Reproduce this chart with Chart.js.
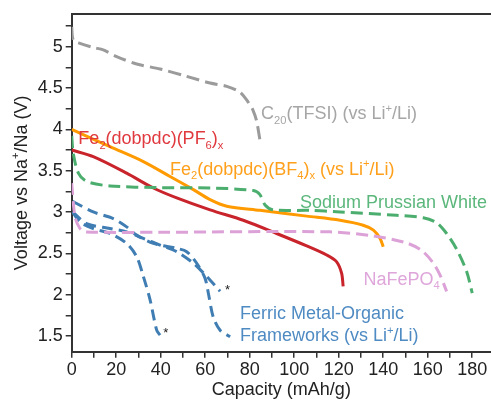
<!DOCTYPE html>
<html lang="en">
<head>
<meta charset="UTF-8">
<title>Voltage vs capacity</title>
<script src="https://cdn.jsdelivr.net/npm/chart.js"></script>
<style>
  html, body { margin: 0; padding: 0; background: #fff; }
</style>
</head>
<body>
<canvas id="voltageChart" width="491" height="403"></canvas>
<script>
// tick labels
const capacityLabels = [0, 20, 40, 60, 80, 100, 120, 140, 160, 180];
const voltageLabels = [1.5, 2, 2.5, 3, 3.5, 4, 4.5, 5];

// C20(TFSI) (vs Li+/Li)
const c20Cap = [0, 0.7, 3.7, 9.7, 14.2, 20.2, 29.2, 39.7, 51.7, 62.2, 69.7, 75.6, 79.3, 81.5, 83.1, 84.6];
const c20Volt = [5.24, 5.08, 5.04, 4.99, 4.96, 4.88, 4.79, 4.73, 4.64, 4.56, 4.52, 4.45, 4.33, 4.23, 4.10, 3.87];

// Fe2(dobpdc)(BF4)x (vs Li+/Li)
const bf4Cap = [0, 17.2, 32.2, 44.2, 54.7, 62.2, 69.7, 84.6, 105.6, 120.6, 131, 135.6, 138.6, 140];
const bf4Volt = [4.0, 3.79, 3.61, 3.43, 3.27, 3.15, 3.07, 3.02, 2.95, 2.90, 2.84, 2.78, 2.68, 2.58];

// Fe2(dobpdc)(PF6)x
const pf6Cap = [0, 9.7, 24.7, 36.7, 47.2, 62.2, 77.1, 92.1, 105.6, 114.6, 119, 121.3, 122];
const pf6Volt = [3.75, 3.67, 3.47, 3.29, 3.17, 3.025, 2.90, 2.74, 2.59, 2.48, 2.40, 2.26, 2.10];

// Sodium Prussian White
const spwCap = [0, 0.7, 3, 6.7, 17.2, 39.7, 62.2, 81.6, 84.6, 86.9, 90.6, 107.1, 120.6, 146, 158, 164, 168.5, 173, 177.5, 180];
const spwVolt = [3.92, 3.71, 3.47, 3.37, 3.315, 3.295, 3.29, 3.26, 3.21, 3.085, 3.025, 3.02, 3.0, 2.96, 2.93, 2.87, 2.74, 2.55, 2.28, 2.02];

// NaFePO4
const nfpCap = [0, 1.5, 3.7, 6, 40, 116, 135.6, 150, 157, 162, 165.5, 168.5];
const nfpVolt = [3.35, 2.94, 2.80, 2.76, 2.755, 2.76, 2.71, 2.63, 2.54, 2.40, 2.24, 2.04];

// Ferric metal-organic frameworks (three curves)
const mofACap = [0.4, 9.7, 18.7, 24.7, 29.2, 36.7, 47.2, 51.7, 56.2, 59.9, 61.4, 63.6, 66.7, 71.2];
const mofAVolt = [3.13, 3.0, 2.92, 2.82, 2.72, 2.62, 2.56, 2.52, 2.38, 2.20, 2.02, 1.73, 1.57, 1.49];
const mofBCap = [0.4, 6.7, 17.2, 24.7, 32.2, 39.7, 47.2, 54.7, 60.7, 66.7];
const mofBVolt = [3.0, 2.86, 2.80, 2.76, 2.68, 2.60, 2.52, 2.38, 2.22, 2.04];
const mofCCap = [0.4, 3.7, 9.7, 17.2, 24.7, 29.2, 32.2, 35.2, 38.2, 39.7];
const mofCVolt = [3.0, 2.88, 2.80, 2.74, 2.62, 2.46, 2.22, 1.94, 1.57, 1.51];

const FONT = "'Liberation Sans', Arial, sans-serif";

function pts(xs, ys) {
    return xs.map(function (x, i) { return { x: x, y: ys[i] }; });
}

function series(xs, ys, color, dash) {
    return {
        data: pts(xs, ys),
        borderColor: color,
        borderWidth: 3,
        borderDash: dash || [],
        pointRadius: 0,
        tension: 0.3,
        fill: false
    };
}

// text labels on the plot, [text, 'sub'|'sup']
const notes = [
    { x: 85.1, y: 4.20, color: '#a6a6a6', parts: [['C'], ['20', 'sub'], ['(TFSI) (vs Li'], ['+', 'sup'], ['/Li)']] },
    { x: 3.0, y: 3.895, color: '#e0393e', parts: [['Fe'], ['2', 'sub'], ['(dobpdc)(PF'], ['6', 'sub'], [')'], ['x', 'sub']] },
    { x: 44.2, y: 3.53, color: '#ffa01c', parts: [['Fe'], ['2', 'sub'], ['(dobpdc)(BF'], ['4', 'sub'], [')'], ['x', 'sub'], [' (vs Li'], ['+', 'sup'], ['/Li)']] },
    { x: 102.6, y: 3.125, color: '#5bb77b', parts: [['Sodium Prussian White']] },
    { x: 131.1, y: 2.20, color: '#dea6da', parts: [['NaFePO'], ['4', 'sub']] },
    { x: 75.6, y: 1.78, color: '#4f8bc3', parts: [['Ferric Metal-Organic']] },
    { x: 75.6, y: 1.52, color: '#4f8bc3', parts: [['Frameworks (vs Li'], ['+', 'sup'], ['/Li)']] },
    { x: 68.9, y: 2.07, color: '#222', size: 13, parts: [['*']] },
    { x: 41.2, y: 1.54, color: '#222', size: 13, parts: [['*']] }
];

function drawParts(ctx, parts, x, y, size) {
    var cx = x;
    parts.forEach(function (p) {
        var fs = size, dy = 0;
        if (p[1] === 'sub') { fs = size * 0.62; dy = size * 0.26; }
        if (p[1] === 'sup') { fs = size * 0.62; dy = -size * 0.4; }
        ctx.font = fs + 'px ' + FONT;
        ctx.fillText(p[0], cx, y + dy);
        cx += ctx.measureText(p[0]).width;
    });
    return cx - x;
}

function partsWidth(ctx, parts, size) {
    var w = 0;
    parts.forEach(function (p) {
        var fs = (p[1] === 'sub' || p[1] === 'sup') ? size * 0.62 : size;
        ctx.font = fs + 'px ' + FONT;
        w += ctx.measureText(p[0]).width;
    });
    return w;
}

const labelsPlugin = {
    id: 'labels',
    afterDraw: function (chart) {
        var ctx = chart.ctx, xs = chart.scales.x, ys = chart.scales.y, area = chart.chartArea;
        ctx.save();
        // top frame line
        ctx.strokeStyle = '#333';
        ctx.lineWidth = 2;
        ctx.beginPath();
        ctx.moveTo(area.left, area.top);
        ctx.lineTo(chart.width, area.top);
        ctx.stroke();

        ctx.textBaseline = 'alphabetic';
        ctx.textAlign = 'left';
        notes.forEach(function (n) {
            var size = n.size || 18;
            ctx.fillStyle = n.color;
            drawParts(ctx, n.parts, xs.getPixelForValue(n.x), ys.getPixelForValue(n.y) + size * 0.36, size);
        });

        // y axis title
        var yTitle = [['Voltage vs Na'], ['+', 'sup'], ['/Na (V)']];
        var w = partsWidth(ctx, yTitle, 18);
        ctx.translate(20, (area.top + area.bottom) / 2);
        ctx.rotate(-Math.PI / 2);
        ctx.fillStyle = '#222';
        drawParts(ctx, yTitle, -w / 2, 6.5, 18);
        ctx.restore();
    }
};

var ctx = document.getElementById('voltageChart').getContext('2d');
var chart = new Chart(ctx, {
    type: 'line',
    data: {
        datasets: [
            series(c20Cap, c20Volt, '#9b9b9b', [13, 6]),
            series(spwCap, spwVolt, '#4cae6e', [12, 6]),
            series(nfpCap, nfpVolt, '#dca2d8', [12, 6]),
            series(mofACap, mofAVolt, '#3f7db3', [11, 6]),
            series(mofBCap, mofBVolt, '#3f7db3', [11, 6]),
            series(mofCCap, mofCVolt, '#3f7db3', [11, 6]),
            series(bf4Cap, bf4Volt, '#ff9a00'),
            series(pf6Cap, pf6Volt, '#c9242b')
        ]
    },
    options: {
        responsive: false,
        animation: false,
        layout: { padding: { top: 14, right: 0, left: 0, bottom: 0 } },
        plugins: { legend: { display: false }, tooltip: { enabled: false } },
        scales: {
            x: {
                type: 'linear',
                min: 0,
                max: 188.45,
                afterFit: function (s) { s.height = 51.3; },
                ticks: {
                    stepSize: 10,
                    includeBounds: false,
                    autoSkip: false,
                    maxRotation: 0,
                    padding: 2,
                    color: '#222',
                    font: { size: 18, family: FONT },
                    callback: function (v) { return capacityLabels.indexOf(v) >= 0 ? v : ''; }
                },
                grid: { drawOnChartArea: false, tickLength: 6, color: '#333', lineWidth: 1.5 },
                border: { display: true, color: '#333', width: 2 },
                title: { display: true, text: 'Capacity (mAh/g)', color: '#222', font: { size: 18, family: FONT }, padding: { top: 0, bottom: 2 } }
            },
            y: {
                type: 'linear',
                min: 1.31,
                max: 5.395,
                afterFit: function (s) { s.width = 71.7; },
                ticks: {
                    stepSize: 0.25,
                    includeBounds: false,
                    autoSkip: false,
                    padding: 3,
                    color: '#222',
                    font: { size: 18, family: FONT },
                    callback: function (v) {
                        var r = Math.round(v * 100) / 100;
                        return voltageLabels.indexOf(r) >= 0 ? r : '';
                    }
                },
                grid: { drawOnChartArea: false, tickLength: 6, color: '#333', lineWidth: 1.5 },
                border: { display: true, color: '#333', width: 2 }
            }
        }
    },
    plugins: [labelsPlugin]
});
</script>
</body>
</html>
